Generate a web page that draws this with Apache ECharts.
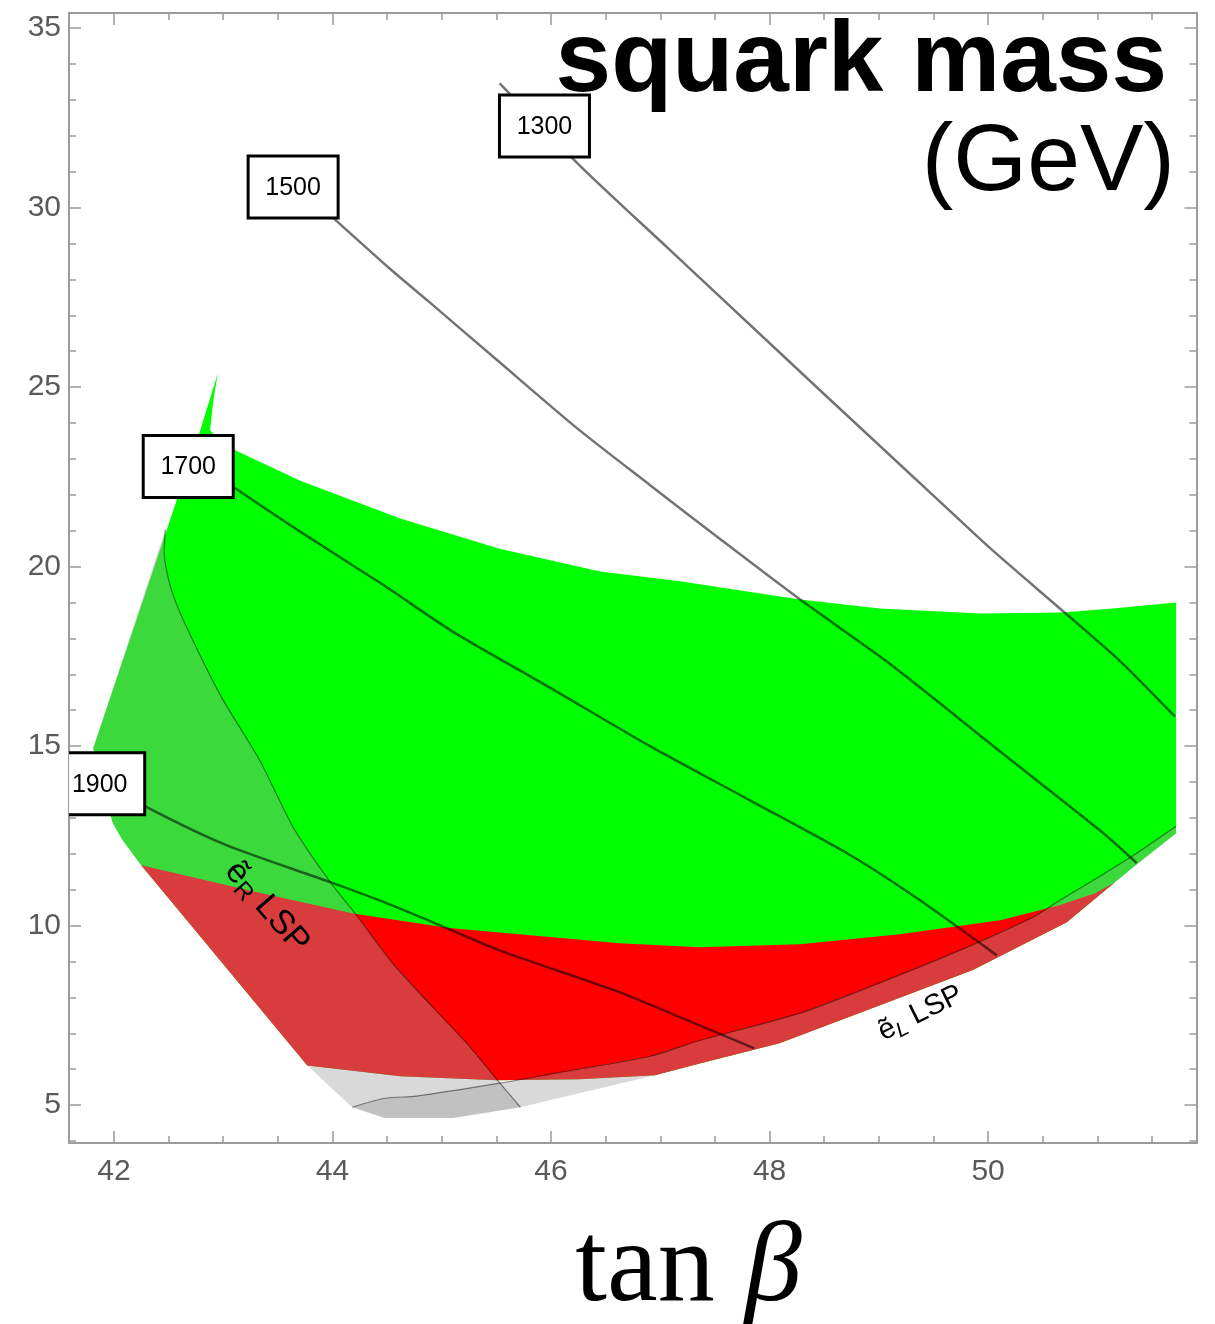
<!DOCTYPE html>
<html>
<head>
<meta charset="utf-8">
<title>squark mass contours</title>
<script src="https://cdn.jsdelivr.net/npm/echarts@6/dist/echarts.min.js"></script>
<style>
  html, body { margin: 0; padding: 0; background: #ffffff; }
  #chart { width: 1215px; height: 1324px; }
</style>
</head>
<body>
<div id="chart"></div>
<script>
// ---- axis ranges and ticks ----
const xRange = [41.589, 51.907];
const yRange = [3.944, 35.42];
const xMajorTicks = [42, 44, 46, 48, 50];
const xMinorTicks = [42.5, 43, 43.5, 44.5, 45, 45.5, 46.5, 47, 47.5, 48.5, 49, 49.5, 50.5, 51, 51.5];
const yMajorTicks = [5, 10, 15, 20, 25, 30, 35];
const yMinorTicks = [4, 6, 7, 8, 9, 11, 12, 13, 14, 16, 17, 18, 19, 21, 22, 23, 24, 26, 27, 28, 29, 31, 32, 33, 34];

// ---- viable region: spike, upper edge and right side ----
const upperEdge = [
  [42.95, 25.38], [42.91, 24.63], [42.88, 23.80], [42.99, 23.41], [43.11, 23.24],
  [43.70, 22.40], [44.62, 21.34], [45.53, 20.50], [46.45, 19.86], [47.18, 19.59],
  [48.28, 19.08], [49.01, 18.83], [49.93, 18.69], [50.68, 18.72], [51.14, 18.83],
  [51.72, 19.00], [51.72, 12.57]
];
// lower edge, from the right end back to the left
const lowerEdge = [
  [51.33, 11.63], [51.16, 11.21], [50.72, 10.09], [49.86, 8.76], [49.01, 7.78],
  [48.09, 6.72], [47.36, 6.16], [46.95, 5.83], [46.26, 5.72], [45.51, 5.69],
  [44.62, 5.80], [43.77, 6.10]
];
// left edge, from the bottom up to the spike
const leftEdge = [
  [42.25, 11.68], [42.08, 12.38], [41.99, 12.85], [41.81, 14.93], [42.79, 23.80]
];
// upper edge of the red band
const redTop = [
  [42.25, 11.68], [43.24, 10.98], [44.19, 10.34], [45.07, 9.93], [46.63, 9.51],
  [47.36, 9.40], [48.28, 9.48], [49.19, 9.76], [50.11, 10.15], [50.66, 10.57],
  [50.98, 10.90]
];
// boundary of the selectron-R LSP region
const eRCurve = [
  [42.47, 21.03], [42.46, 20.42], [42.48, 19.92], [42.54, 19.22], [42.67, 18.28],
  [42.97, 16.44], [43.34, 14.57], [43.64, 12.74], [43.98, 11.21], [44.22, 10.29],
  [44.55, 8.95], [44.92, 7.72], [45.23, 6.72], [45.51, 5.69], [45.72, 4.94]
];
// boundary of the selectron-L LSP region
const eLCurve = [
  [44.18, 4.94], [44.48, 5.19], [44.77, 5.25], [45.53, 5.61], [46.08, 5.91],
  [46.91, 6.36], [47.36, 6.80], [48.28, 7.56], [49.07, 8.48], [49.81, 9.40],
  [50.41, 10.23], [50.66, 10.71], [51.02, 11.37], [51.33, 11.96], [51.72, 12.77]
];
// bottom of the LSP strips below the red band
const grayBottom = [[45.72, 4.94], [45.10, 4.64], [44.48, 4.64], [44.18, 4.94]];

// ---- squark mass contours (GeV) ----
const contourLevels = ['1300', '1500', '1700', '1900'];
const contour1300 = [
  [45.53, 33.46], [46.28, 31.12], [47.07, 28.87], [49.95, 20.70], [50.70, 18.72],
  [51.21, 17.36], [51.71, 15.82]
];
const contour1500 = [
  [43.88, 30.06], [44.52, 28.31], [44.89, 27.36], [45.53, 25.69], [46.24, 23.85],
  [46.91, 22.26], [47.55, 20.76], [48.28, 19.08], [49.07, 17.36], [50.11, 14.85],
  [51.02, 12.66], [51.36, 11.74]
];
const contour1700 = [
  [43.01, 22.40], [43.11, 22.18], [43.70, 20.98], [44.46, 19.50], [45.10, 18.19],
  [45.99, 16.63], [46.91, 14.99], [47.82, 13.49], [48.74, 11.96], [49.35, 10.76],
  [50.08, 9.17]
];
const contour1900 = [
  [42.15, 13.63], [42.30, 13.30], [43.03, 12.24], [43.98, 11.21], [44.50, 10.62],
  [44.92, 10.09], [45.53, 9.31], [46.63, 8.14], [47.36, 7.22], [47.86, 6.58]
];
const contourLabelAt = [[45.94, 32.27], [43.64, 30.57], [42.68, 22.79], [41.87, 13.95]];

// ---- polygons assembled from the edges ----
const viableZone = upperEdge.concat(lowerEdge, leftEdge);
const redZone = redTop.concat(lowerEdge.slice(1));
const eRZone = eRCurve.concat(grayBottom.slice(1), [lowerEdge[lowerEdge.length - 1]], leftEdge.slice(0, 4));
const eLZone = eLCurve.concat([upperEdge[upperEdge.length - 1]], lowerEdge.slice(0, 8), grayBottom);

const SANS = '"Liberation Sans", Arial, Helvetica, sans-serif';
const SERIF = '"Liberation Serif", "Times New Roman", serif';
const frameColor = '#9b9b9b';
const lspShade = 'rgba(156,156,156,0.385)';

const measureCtx = document.createElement('canvas').getContext('2d');
function textWidth(str, font) { measureCtx.font = font; return measureCtx.measureText(str).width; }

function makeAxis(kind, position, ticks, tickLen, showLine, showLabels) {
  const range = kind === 'x' ? xRange : yRange;
  return {
    type: 'value', gridIndex: 0, position: position,
    min: range[0], max: range[1],
    axisLine: { show: showLine, onZero: false, lineStyle: { color: frameColor, width: 2 } },
    axisTick: { show: true, inside: true, length: tickLen, customValues: ticks,
                lineStyle: { color: frameColor, width: 1.5 } },
    axisLabel: showLabels ? {
      show: true, customValues: ticks, margin: kind === 'x' ? 14 : 8,
      color: '#5a5a5a', fontSize: 30, fontFamily: SANS
    } : { show: false },
    splitLine: { show: false },
    minorTick: { show: false }
  };
}

function polygonSeries(points, color, z) {
  return {
    type: 'custom', coordinateSystem: 'cartesian2d', xAxisIndex: 0, yAxisIndex: 0,
    silent: true, clip: true, z: z,
    data: [points[0]],
    renderItem: function (params, api) {
      return {
        type: 'polygon',
        shape: { points: points.map(function (p) { return api.coord(p); }) },
        style: { fill: color }
      };
    }
  };
}

function curveSeries(points, color, width, z) {
  return {
    type: 'line', xAxisIndex: 0, yAxisIndex: 0, data: points,
    showSymbol: false, symbol: 'none', smooth: 0.25, silent: true, clip: true, z: z,
    lineStyle: { color: color, width: width }
  };
}

// region names: subscript letter, font sizes and text angle
const lspMarks = [
  { sub: 'R', italic: false, size: 34, subSize: 24, angle: -49 },
  { sub: 'L', italic: true, size: 29, subSize: 21, angle: 26.6 }
];

const option = {
  animation: false,
  backgroundColor: '#ffffff',
  grid: { left: 69, top: 13, width: 1127.5, height: 1130, containLabel: false, outerBoundsMode: 'none' },
  xAxis: [
    makeAxis('x', 'bottom', xMajorTicks, 12, true, true),
    makeAxis('x', 'bottom', xMinorTicks, 7, false, false),
    makeAxis('x', 'top', xMajorTicks, 12, true, false),
    makeAxis('x', 'top', xMinorTicks, 7, false, false)
  ],
  yAxis: [
    makeAxis('y', 'left', yMajorTicks, 12, true, true),
    makeAxis('y', 'left', yMinorTicks, 7, false, false),
    makeAxis('y', 'right', yMajorTicks, 12, true, false),
    makeAxis('y', 'right', yMinorTicks, 7, false, false)
  ],
  graphic: [
    { type: 'text', x: 1167, y: 63, z: 10,
      style: { text: 'squark mass', font: 'bold 100px ' + SANS, fill: '#000',
               align: 'right', verticalAlign: 'middle', textAlign: 'right', textVerticalAlign: 'middle' } },
    { type: 'text', x: 1175, y: 164, z: 10,
      style: { text: '(GeV)', font: '95px ' + SANS, fill: '#000',
               align: 'right', verticalAlign: 'middle', textAlign: 'right', textVerticalAlign: 'middle' } },
    { type: 'text', x: 645, y: 1270, z: 10,
      style: { text: 'tan', font: '114px ' + SERIF, fill: '#000',
               align: 'center', verticalAlign: 'middle', textAlign: 'center', textVerticalAlign: 'middle' } },
    { type: 'text', x: 745, y: 1270, z: 10,
      style: { text: 'β', font: 'italic 114px ' + SERIF, fill: '#000',
               align: 'left', verticalAlign: 'middle', textAlign: 'left', textVerticalAlign: 'middle' } }
  ],
  series: [
    polygonSeries(viableZone, '#00ff00', 1),
    polygonSeries(redZone, '#ff0000', 1),
    polygonSeries(eRZone, lspShade, 1),
    polygonSeries(eLZone, lspShade, 1),
    curveSeries(eRCurve, 'rgba(0,0,0,0.45)', 1.2, 2),
    curveSeries(eLCurve, 'rgba(0,0,0,0.45)', 1.2, 2),
    curveSeries(contour1300, 'rgba(0,0,0,0.55)', 2.5, 3),
    curveSeries(contour1500, 'rgba(0,0,0,0.55)', 2.5, 3),
    curveSeries(contour1700, 'rgba(0,0,0,0.55)', 2.5, 3),
    curveSeries(contour1900, 'rgba(0,0,0,0.55)', 2.5, 3),
    {
      // boxed contour labels
      type: 'custom', coordinateSystem: 'cartesian2d', xAxisIndex: 0, yAxisIndex: 0,
      silent: true, clip: true, z: 4,
      data: contourLabelAt,
      renderItem: function (params, api) {
        const p = api.coord([api.value(0), api.value(1)]);
        return {
          type: 'group',
          children: [
            { type: 'rect', shape: { x: p[0] - 45, y: p[1] - 31, width: 90, height: 62 },
              style: { fill: '#ffffff', stroke: '#000000', lineWidth: 3 } },
            { type: 'text', x: p[0], y: p[1] + 1,
              style: { text: contourLevels[params.dataIndex], font: '25px ' + SANS, fill: '#000',
                       align: 'center', verticalAlign: 'middle' } }
          ]
        };
      }
    },
    {
      // rotated region names
      type: 'custom', coordinateSystem: 'cartesian2d', xAxisIndex: 0, yAxisIndex: 0,
      silent: true, clip: false, z: 5,
      data: [[43.40, 10.51], [49.38, 7.56]],
      renderItem: function (params, api) {
        const p = api.coord([api.value(0), api.value(1)]);
        const m = lspMarks[params.dataIndex];
        const mainFont = m.size + 'px ' + SANS;
        const subFont = (m.italic ? 'italic ' : '') + m.subSize + 'px ' + SANS;
        const w1 = textWidth('ẽ', mainFont);
        const w2 = textWidth(m.sub, subFont);
        const w3 = textWidth(' LSP', mainFont);
        const x0 = -(w1 + w2 + w3) / 2;
        const drop = Math.round(m.size * 0.24);
        return {
          type: 'group', x: p[0], y: p[1], rotation: m.angle * Math.PI / 180,
          children: [
            { type: 'text', x: x0, y: 0,
              style: { text: 'ẽ', font: mainFont, fill: '#000', align: 'left', verticalAlign: 'middle' } },
            { type: 'text', x: x0 + w1, y: drop,
              style: { text: m.sub, font: subFont, fill: '#000', align: 'left', verticalAlign: 'middle' } },
            { type: 'text', x: x0 + w1 + w2, y: 0,
              style: { text: ' LSP', font: mainFont, fill: '#000', align: 'left', verticalAlign: 'middle' } }
          ]
        };
      }
    }
  ]
};

const chart = echarts.init(document.getElementById('chart'), null, { renderer: 'canvas', width: 1215, height: 1324 });
chart.setOption(option);
</script>
</body>
</html>
